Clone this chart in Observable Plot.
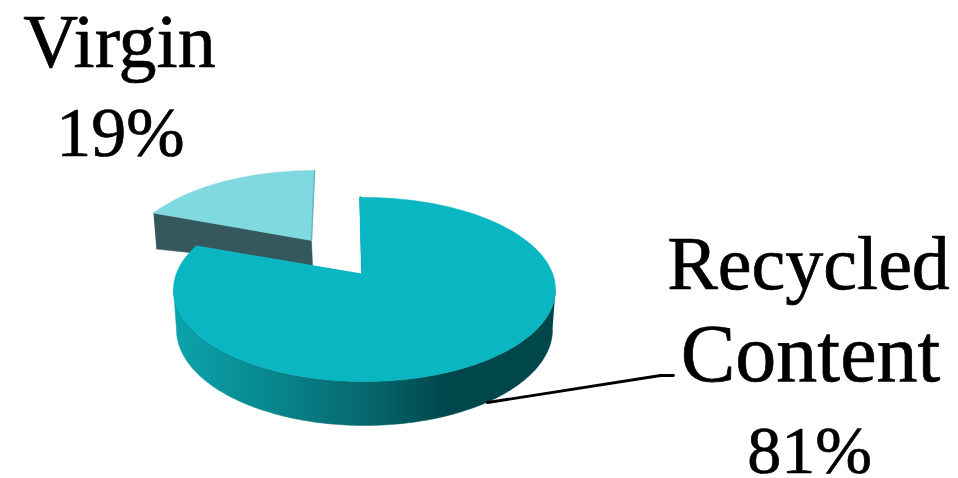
<!DOCTYPE html>
<html>
<head>
<meta charset="utf-8">
<script src="https://cdn.jsdelivr.net/npm/d3@7"></script>
<script src="https://cdn.jsdelivr.net/npm/@observablehq/plot@0.6"></script>
<style>
  html, body { margin: 0; padding: 0; background: #fff; }
  svg { display: block; }
</style>
</head>
<body>
<div id="chart"></div>
<script>
// Data
const categories = ["Recycled Content", "Virgin"];
const shares = [81, 19];

// Colours
const mainTop = "#09b6c2";
const virginTop = "#80d9e0";
const virginWall = "#35585c";
const wallStops = [[0, "#0ba4ad"], [0.5, "#05696f"], [0.72, "#00474b"], [1, "#00474b"]];

// Pseudo-3D layout, in chart units
const W = 958, H = 478;
const tilt = -1.5, warp = 8.4, gap = 4;          // degrees
const rx = 191, ry = 92;
const main = {cx: 364, cy: 289, apexX: 361, apexY: 273};
const base = {cx: 364, cy: 329, rx: 188, ry: 96};
const virgin = {cx: 314, cy: 262, apexX: 311, apexY: 240, apexDepth: 25, rimDepth: 36};

const rad = (d) => d * Math.PI / 180;
const rim = (c, a, rX = rx, rY = ry) => ({x: c.cx + rX * Math.sin(rad(a)), y: c.cy - rY * Math.cos(rad(a))});
const arc = (c, a0, a1, rX, rY) => {
  const n = 160;
  return d3.range(n + 1).map((i) => rim(c, a0 + (a1 - a0) * i / n, rX, rY));
};

// Angles come from the shares
const boundary = tilt + shares[0] * 3.6 + warp;
const virginFrom = boundary + gap;

const mainApex = {x: main.apexX, y: main.apexY};
const virginApex = {x: virgin.apexX, y: virgin.apexY};
const mainFace = [mainApex, ...arc(main, tilt, boundary)];
const virginArc = arc(virgin, virginFrom, 360);
const virginFace = [virginApex, ...virginArc];
const vc = virginArc[0];
const virginSide = [
  vc, virginApex,
  {x: virginApex.x + 1, y: virginApex.y + virgin.apexDepth},
  {x: vc.x + 3, y: vc.y + virgin.rimDepth}
];
const mainWall = [...arc(main, 90, 270), ...arc(base, 270, 90, base.rx, base.ry)];
const mainCut = [rim(main, tilt), mainApex];
const virginCut = [virginArc[virginArc.length - 1], virginApex];

// Text
const nameLines = categories.map((c) => c.split(" "));
const labels = [
  {t: nameLines[1][0], x: 119, y: 66, s: 76},
  {t: shares[1] + "%", x: 120, y: 155, s: 70},
  {t: nameLines[0][0], x: 808, y: 288, s: 76},
  {t: nameLines[0][1], x: 810, y: 380, s: 82},
  {t: shares[0] + "%", x: 809, y: 472, s: 68}
];
const leader = [{x: 487, y: 402}, {x: 660, y: 375}, {x: 673, y: 375}];

const gradientDefs = () => {
  const defs = d3.create("svg:defs");
  const g = defs.append("linearGradient").attr("id", "wall")
    .attr("gradientUnits", "userSpaceOnUse")
    .attr("x1", main.cx - rx).attr("x2", main.cx + rx)
    .attr("y1", 0).attr("y2", 0);
  wallStops.forEach(([o, c]) => g.append("stop").attr("offset", o).attr("stop-color", c));
  return defs.node();
};

const poly = (pts, fill) => Plot.line(pts, {x: "x", y: "y", fill, stroke: fill, strokeWidth: 0.5});

const chart = Plot.plot({
  width: W,
  height: H,
  margin: 0,
  x: {domain: [0, W], range: [0, W], axis: null},
  y: {domain: [0, H], range: [0, H], axis: null},
  style: {background: "#fff"},
  marks: [
    gradientDefs,
    poly(virginSide, virginWall),
    poly(virginFace, virginTop),
    Plot.line(virginCut, {x: "x", y: "y", stroke: "#62b8c0", strokeWidth: 1.5}),
    poly(mainWall, "url(#wall)"),
    Plot.line(mainCut, {x: "x", y: "y", stroke: "#04585e", strokeWidth: 2, dx: 1}),
    poly(mainFace, mainTop),
    Plot.line(leader, {x: "x", y: "y", stroke: "#000", strokeWidth: 2.8}),
    Plot.text(labels, {
      x: "x", y: "y", text: "t", fontSize: "s",
      fontFamily: "Liberation Serif",
      textAnchor: "middle", lineAnchor: "bottom",
      fill: "#000", stroke: "#000", strokeWidth: 0.7
    })
  ]
});
document.getElementById("chart").append(chart);
</script>
</body>
</html>
